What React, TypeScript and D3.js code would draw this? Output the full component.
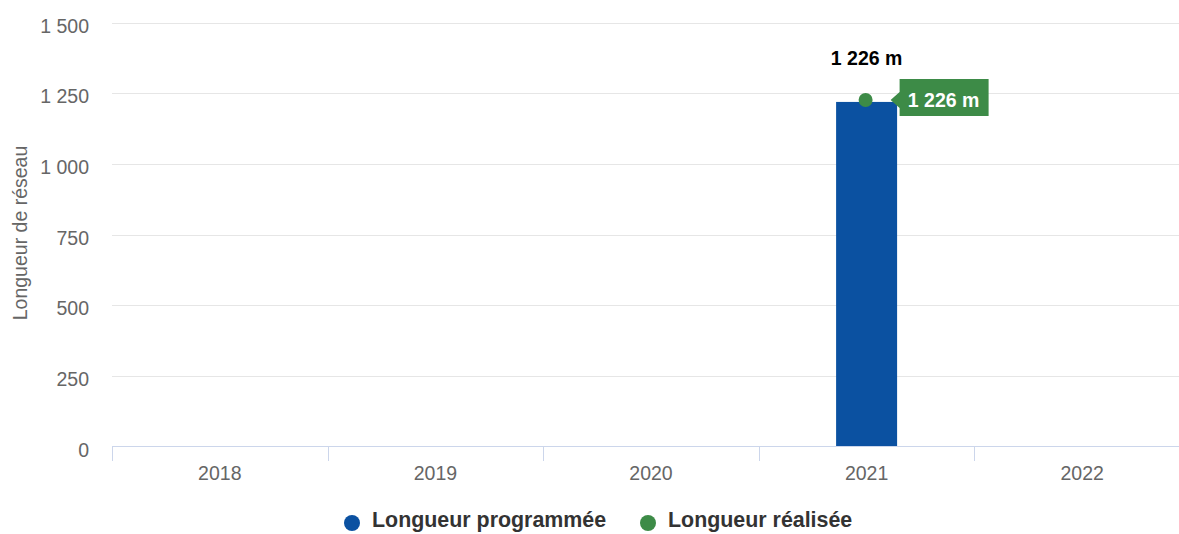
import React from "react";
import * as d3 from "d3";

const categories = ["2018", "2019", "2020", "2021", "2022"];
const programmed = [0, 0, 0, 1219, 0];
const realized: (number | null)[] = [null, null, null, 1226, null];
const yTicks = [0, 250, 500, 750, 1000, 1250, 1500];
const seriesNames = ["Longueur programmée", "Longueur réalisée"];
const colors = ["#0b51a1", "#3d8b47"];

const W = 1179;
const H = 534;
const FONT = "'Liberation Sans', Arial, sans-serif";
const AXF = 19.5;
const LBF = 19.5;

const fmt = (v: number) => d3.format(",")(v).replace(/,/g, " ");

export default function App() {
  const x = d3.scaleBand<string>().domain(categories).range([112, 1190]);
  const y = d3.scaleLinear().domain([0, 1500]).range([446.5, 22.5]);
  const barW = 61;

  return (
    <svg width={W} height={H} style={{ position: "absolute", left: 0, top: 0, fontFamily: FONT }}>
      <rect width={W} height={H} fill="#fff" />
      {yTicks.map((t) => (
        <g key={t}>
          {t !== 0 && (
            <line x1={112} x2={1190} y1={Math.round(y(t)) + 0.5} y2={Math.round(y(t)) + 0.5} stroke="#e6e6e6" strokeWidth={1} />
          )}
          <text x={89} y={y(t) + 10} textAnchor="end" fontSize={AXF} fill="#666">
            {fmt(t)}
          </text>
        </g>
      ))}
      <text
        transform={`translate(27, 233) rotate(-90)`}
        textAnchor="middle"
        fontSize={AXF}
        fill="#666"
      >
        Longueur de réseau
      </text>
      {programmed.map((v, i) =>
        v > 0 ? (
          <rect
            key={i}
            x={(x(categories[i]) as number) + x.bandwidth() / 2 - barW / 2}
            y={y(v)}
            width={barW}
            height={y(0) - y(v)}
            fill={colors[0]}
          />
        ) : null
      )}
      <line x1={112} x2={1190} y1={446.5} y2={446.5} stroke="#ccd6eb" strokeWidth={1} />
      {categories.map((c, i) => (
        <line
          key={"t" + i}
          x1={Math.round(x(c) as number) + 0.5}
          x2={Math.round(x(c) as number) + 0.5}
          y1={446}
          y2={461}
          stroke="#ccd6eb"
        />
      ))}
      {categories.map((c) => (
        <text key={c} x={(x(c) as number) + x.bandwidth() / 2} y={480} textAnchor="middle" fontSize={AXF} fill="#666">
          {c}
        </text>
      ))}
      {realized.map((v, i) => {
        if (v == null) return null;
        const cx = (x(categories[i]) as number) + x.bandwidth() / 2 - 1;
        const cy = y(v);
        const bx = cx + 34;
        return (
          <g key={"p" + i}>
            <circle cx={cx} cy={cy} r={7} fill={colors[1]} />
            <text x={cx + 1} y={cy - 35} textAnchor="middle" fontSize={LBF} fontWeight="bold" fill="#000">
              {fmt(v)} m
            </text>
            <path
              d={`M${bx},${cy - 21} H${bx + 89} V${cy + 16} H${bx} V${cy + 8} L${bx - 9},${cy} L${bx},${cy - 8} Z`}
              fill={colors[1]}
            />
            <text x={bx + 44} y={cy + 7} textAnchor="middle" fontSize={LBF} fontWeight="bold" fill="#fff">
              {fmt(v)} m
            </text>
          </g>
        );
      })}
      <g>
        <circle cx={352} cy={523} r={8} fill={colors[0]} />
        <text x={372} y={527} fontSize={21.4} fontWeight="bold" fill="#333">
          {seriesNames[0]}
        </text>
        <circle cx={648} cy={523} r={8} fill={colors[1]} />
        <text x={668} y={527} fontSize={21.4} fontWeight="bold" fill="#333">
          {seriesNames[1]}
        </text>
      </g>
    </svg>
  );
}
